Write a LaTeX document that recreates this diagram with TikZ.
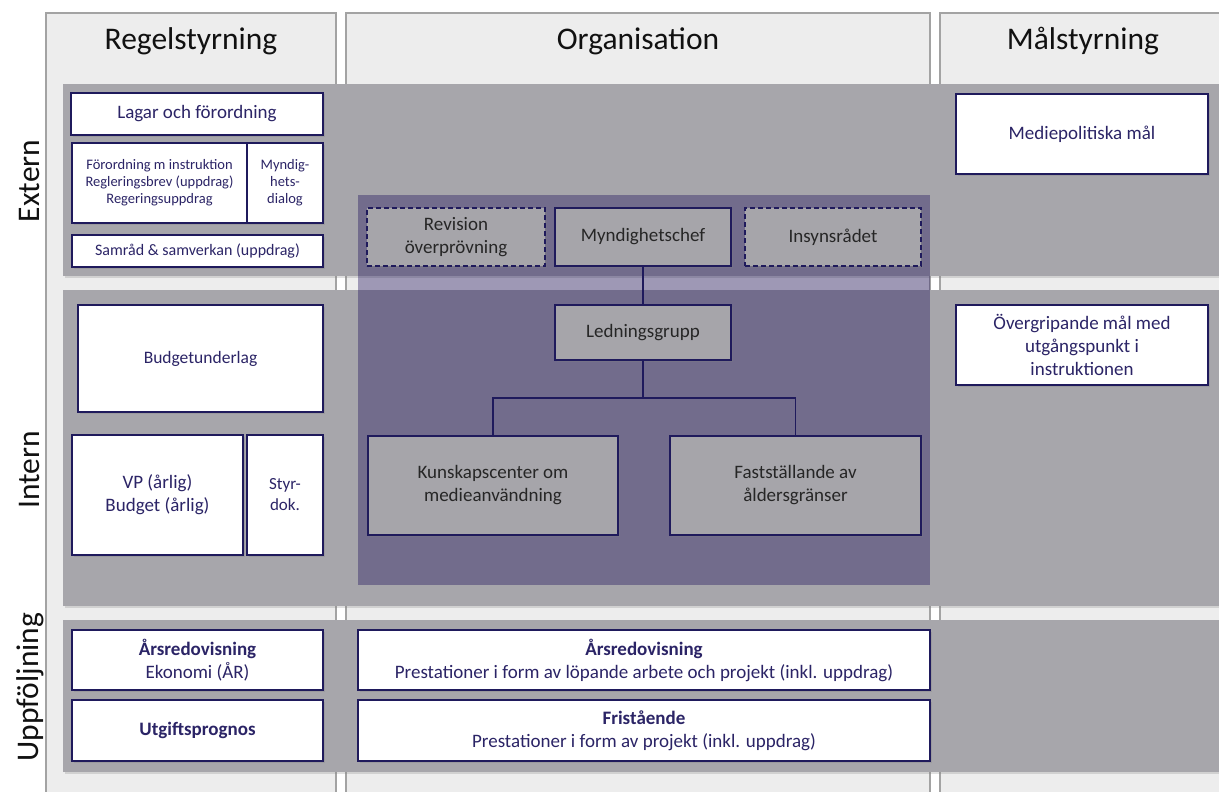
\documentclass[tikz,border=0pt]{standalone}
\usepackage{fontspec}
\setmainfont{Carlito}
\usetikzlibrary{shadows}
\definecolor{colbg}{HTML}{EDEDED}
\definecolor{colline}{HTML}{A3A3A3}
\definecolor{bandgray}{HTML}{A7A6AB}
\definecolor{boxgray}{HTML}{A6A5AA}
\definecolor{navyline}{HTML}{1F1A5C}
\definecolor{navytext}{HTML}{2B2466}
\definecolor{panelcol}{RGB}{30,15,90}
\definecolor{darktext}{HTML}{262626}
\definecolor{headtext}{HTML}{111111}
\begin{document}
\begin{tikzpicture}[x=1pt,y=-1pt,
  colbox/.style={draw=colline, line width=1.2pt, fill=colbg},
  band/.style={fill=bandgray, drop shadow={opacity=0.25, shadow xshift=1.5pt, shadow yshift=-1.5pt}},
  head/.style={font=\fontsize{31.5}{36}\selectfont, text=headtext},
  wbox/.style={draw=navyline, line width=1.7pt, fill=white, text=navytext, align=center, inner sep=1pt,
    font=\fontsize{19}{23}\selectfont,
    drop shadow={opacity=0.3, shadow xshift=1.5pt, shadow yshift=-1.5pt}},
  gbox/.style={draw=navyline, line width=1.7pt, fill=boxgray, text=darktext, align=center, inner sep=1pt,
    font=\fontsize{19}{23}\selectfont,
    drop shadow={opacity=0.3, shadow xshift=1.5pt, shadow yshift=-1.5pt}},
  dbox/.style={gbox, dash pattern=on 5pt off 3pt},
  conn/.style={draw=navyline, line width=1.8pt}
]
\clip (0,0) rectangle (1219,792);
\fill[white] (0,0) rectangle (1219,792);

% columns
\draw[colbox] (46,13) rectangle (336,810);
\draw[colbox] (346,13) rectangle (930,810);
\draw[colbox] (940,13) rectangle (1240,810);

% headers
\node[head] (hregel) at (191,41) {Regelstyrning};
\node[head] (horg) at (638,41) {Organisation};
\node[head] (hmal) at (1083,41) {Målstyrning};

% row labels
\node[head, rotate=90] (lext) at (30,181) {Extern};
\node[head, rotate=90] (lint) at (30,470) {Intern};
\node[head, rotate=90] (lupp) at (30,687) {Uppföljning};

% bands
\fill[band] (63,84) rectangle (1230,276);
\fill[band] (63,290) rectangle (1230,606);
\fill[band] (63,620) rectangle (1230,772);

% organisation panel (semi-transparent purple)
\fill[fill=panelcol, fill opacity=0.38] (358,195) rectangle (930,585);

% Regelstyrning / Extern
\node[wbox, minimum width=252pt, minimum height=42pt] (lagar) at (197,114) {Lagar och förordning};
\node[wbox, minimum width=175pt, minimum height=80pt, font=\fontsize{14.5}{17}\selectfont] (forord) at (159.5,183)
  {Förordning m instruktion\\Regleringsbrev (uppdrag)\\Regeringsuppdrag};
\node[wbox, minimum width=76pt, minimum height=80pt, font=\fontsize{14.5}{17}\selectfont] (myndig) at (285,183)
  {Myndig-\\hets-\\dialog};
\node[wbox, minimum width=251pt, minimum height=32pt, font=\fontsize{16}{19}\selectfont] (samrad) at (197.5,251)
  {Samråd \& samverkan (uppdrag)};

% Regelstyrning / Intern
\node[wbox, minimum width=245pt, minimum height=107pt, font=\fontsize{17.5}{21}\selectfont] (budget) at (200.5,358.5) {Budgetunderlag};
\node[wbox, minimum width=171pt, minimum height=120pt] (vp) at (157.5,495) {VP (årlig)\\Budget (årlig)};
\node[wbox, minimum width=76pt, minimum height=120pt, font=\fontsize{17}{21}\selectfont] (styr) at (285,495) {Styr-\\dok.};

% Uppföljning
\node[wbox, minimum width=251pt, minimum height=60pt] (ars1) at (197.5,660) {\textbf{Årsredovisning}\\Ekonomi (ÅR)};
\node[wbox, minimum width=251pt, minimum height=61pt] (utgift) at (197.5,730.5) {\textbf{Utgiftsprognos}};
\node[wbox, minimum width=572pt, minimum height=60pt] (ars2) at (644,660)
  {\textbf{Årsredovisning}\\Prestationer i form av löpande arbete och projekt (inkl. uppdrag)};
\node[wbox, minimum width=572pt, minimum height=61pt] (frist) at (644,730.5)
  {\textbf{Fristående}\\Prestationer i form av projekt (inkl. uppdrag)};

% Målstyrning
\node[wbox, minimum width=252pt, minimum height=80pt] (medie) at (1082,134) {Mediepolitiska mål};
\node[wbox, minimum width=252pt, minimum height=80pt] (overgr) at (1082,345)
  {Övergripande mål med\\utgångspunkt i\\instruktionen};

% Organisation
\node[dbox, minimum width=178pt, minimum height=58pt] (revision) at (456,237) {Revision\\överprövning};
\node[gbox, minimum width=176pt, minimum height=58pt] (mynd) at (643,237) {Myndighetschef};
\node[dbox, minimum width=176pt, minimum height=58pt] (insyn) at (833,237) {Insynsrådet};
\node[gbox, minimum width=176pt, minimum height=55pt] (ledn) at (643,332.5) {Ledningsgrupp};
\node[gbox, minimum width=250pt, minimum height=99pt] (kunskap) at (493,485.5) {Kunskapscenter om\\medieanvändning};
\node[gbox, minimum width=251pt, minimum height=99pt] (fast) at (795.5,485.5) {Fastställande av\\åldersgränser};

% connectors
\coordinate (split) at (643,398);
\draw[conn] (mynd.south) -- (ledn.north);
\draw[conn] (ledn.south) -- (split);
\draw[conn] (kunskap.north) |- (split) -| (fast.north);
\end{tikzpicture}
\end{document}
